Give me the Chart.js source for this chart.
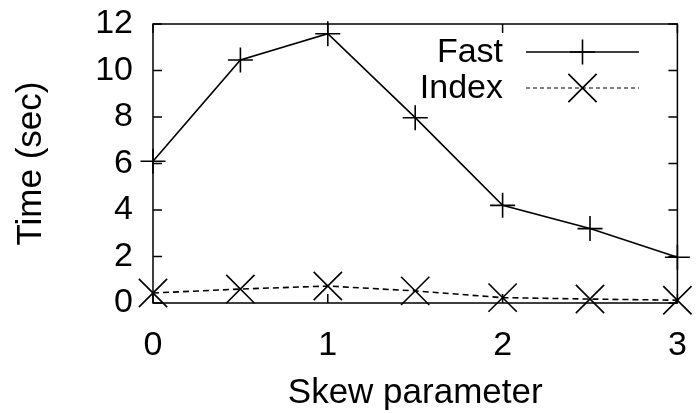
<!DOCTYPE html>
<html>
<head>
<meta charset="utf-8">
<script src="https://cdn.jsdelivr.net/npm/chart.js@4.4.1/dist/chart.umd.min.js"></script>
<style>
  html, body { margin: 0; padding: 0; background: #fff; }
  #wrap { width: 699px; height: 413px; position: relative; }
</style>
</head>
<body>
<div id="wrap"><canvas id="c" width="699" height="413"></canvas></div>
<script>
// ---- data ----
const skewParam = [0, 0.5, 1, 1.5, 2, 2.5, 3];
const fastTime = [6.1, 10.45, 11.58, 7.97, 4.2, 3.2, 1.97];
const indexTime = [0.43, 0.6, 0.73, 0.52, 0.23, 0.17, 0.12];
const seriesNames = ['Fast', 'Index'];
const xTickValues = [0, 1, 2, 3];
const yTickValues = [0, 2, 4, 6, 8, 10, 12];
const xTitle = 'Skew parameter';
const yTitle = 'Time (sec)';

const FONT = '"Liberation Sans", Arial, Helvetica, sans-serif';
const FS = 34;
Chart.defaults.color = '#000';
Chart.defaults.font.family = FONT;

function pts(xs, ys) { return xs.map((x, i) => ({ x: x, y: ys[i] })); }
function noPad(s) { s.paddingTop = 0; s.paddingBottom = 0; s.paddingLeft = 0; s.paddingRight = 0; }

// frame + inward mirror ticks (gnuplot-like)
const framePlugin = {
  id: 'frame',
  afterDatasetsDraw(chart) {
    const { ctx, chartArea: a, scales } = chart;
    const L = 9;
    ctx.save();
    ctx.strokeStyle = '#000';
    ctx.lineWidth = 1.5;
    ctx.beginPath();
    ctx.rect(a.left, a.top, a.right - a.left, a.bottom - a.top);
    ctx.stroke();
    ctx.beginPath();
    xTickValues.forEach(v => {
      const px = scales.x.getPixelForValue(v);
      ctx.moveTo(px, a.bottom); ctx.lineTo(px, a.bottom - L);
      ctx.moveTo(px, a.top); ctx.lineTo(px, a.top + L);
    });
    yTickValues.forEach(v => {
      const py = scales.y.getPixelForValue(v);
      ctx.moveTo(a.left, py); ctx.lineTo(a.left + L, py);
      ctx.moveTo(a.right, py); ctx.lineTo(a.right - L, py);
    });
    ctx.stroke();
    ctx.restore();
  }
};

// legend: text right-aligned, sample line with marker on the right
const legendPlugin = {
  id: 'gpLegend',
  afterDatasetsDraw(chart) {
    const { ctx } = chart;
    const textRight = 503, x0 = 526, x1 = 639, rowY = [52, 88];
    const cx = (x0 + x1) / 2;
    ctx.save();
    chart.data.datasets.forEach((ds, i) => {
      const y = rowY[i];
      ctx.font = FS + 'px ' + FONT;
      ctx.fillStyle = '#000';
      ctx.textAlign = 'right';
      ctx.textBaseline = 'middle';
      ctx.fillText(ds.label, textRight, y + 1);
      ctx.strokeStyle = ds.borderColor;
      ctx.lineWidth = i === 0 ? 1.5 : 1.2;
      ctx.setLineDash(i === 0 ? [] : [4, 3]);
      ctx.beginPath();
      ctx.moveTo(x0, y); ctx.lineTo(x1, y);
      ctx.stroke();
      ctx.setLineDash([]);
      ctx.lineWidth = ds.pointBorderWidth;
      ctx.beginPath();
      const r = ds.pointRadius;
      if (ds.pointStyle === 'cross') {
        ctx.moveTo(cx - r, y); ctx.lineTo(cx + r, y);
        ctx.moveTo(cx, y - r); ctx.lineTo(cx, y + r);
      } else {
        const d = r * Math.SQRT1_2;
        ctx.moveTo(cx - d, y - d); ctx.lineTo(cx + d, y + d);
        ctx.moveTo(cx - d, y + d); ctx.lineTo(cx + d, y - d);
      }
      ctx.stroke();
    });
    ctx.restore();
  }
};

new Chart(document.getElementById('c'), {
  type: 'line',
  data: {
    datasets: [
      {
        label: seriesNames[0],
        data: pts(skewParam, fastTime),
        borderColor: '#000',
        backgroundColor: '#000',
        borderWidth: 1.6,
        pointStyle: 'cross',
        pointRadius: 12.5,
        pointBorderWidth: 1.6,
        pointBorderColor: '#000',
        tension: 0,
        clip: false
      },
      {
        label: seriesNames[1],
        data: pts(skewParam, indexTime),
        borderColor: '#000',
        backgroundColor: '#000',
        borderWidth: 1.6,
        borderDash: [6, 4],
        pointStyle: 'crossRot',
        pointRadius: 20,
        pointBorderWidth: 1.6,
        pointBorderColor: '#000',
        tension: 0,
        clip: false
      }
    ]
  },
  options: {
    responsive: false,
    animation: false,
    devicePixelRatio: 1,
    layout: { padding: { left: 0, right: 16, top: 24, bottom: 0 } },
    plugins: { legend: { display: false }, tooltip: { enabled: false } },
    scales: {
      x: {
        type: 'linear',
        min: 0, max: 3,
        afterBuildTicks(s) { s.ticks = xTickValues.map(v => ({ value: v })); },
        afterFit(s) { s.height = 110; noPad(s); },
        grid: { display: false, drawTicks: false },
        border: { display: false },
        ticks: { font: { size: FS, family: FONT }, color: '#000', padding: 22, maxRotation: 0, autoSkip: false },
        title: { display: true, text: xTitle, font: { size: FS + 1, family: FONT, lineHeight: 1.1 }, color: '#000', padding: { top: 0, bottom: 0 } }
      },
      y: {
        type: 'linear',
        min: 0, max: 12,
        afterBuildTicks(s) { s.ticks = yTickValues.map(v => ({ value: v })); },
        afterFit(s) { s.width = 153; noPad(s); },
        grid: { display: false, drawTicks: false },
        border: { display: false },
        ticks: { font: { size: FS, family: FONT }, color: '#000', padding: 20, autoSkip: false },
        title: { display: true, text: yTitle, font: { size: FS + 1, family: FONT, lineHeight: 1.1 }, color: '#000', padding: { top: 12, bottom: 0 } }
      }
    }
  },
  plugins: [framePlugin, legendPlugin]
});
</script>
</body>
</html>
